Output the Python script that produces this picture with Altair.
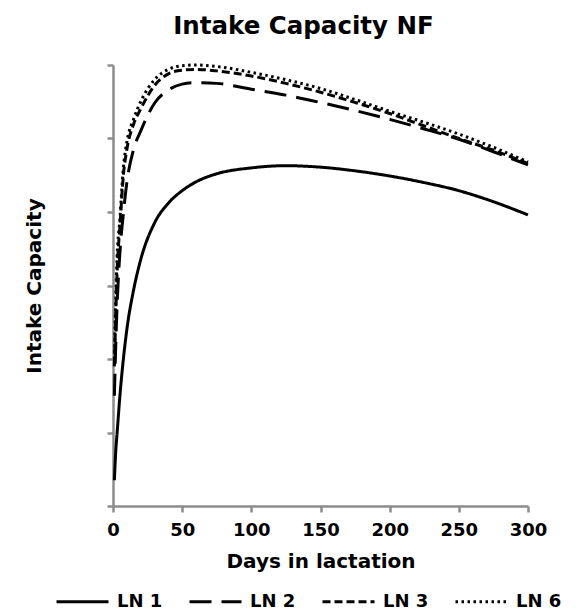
import altair as alt
import pandas as pd

days = [1, 2, 3, 5, 7.5, 10, 15, 20, 30, 40, 50, 60, 75, 100, 125, 150, 175, 200, 225, 250, 275, 300]

ln1 = [0.35, 0.75, 1.0, 1.5, 2.0, 2.4, 2.95, 3.35, 3.85, 4.12, 4.29, 4.41, 4.52, 4.60, 4.63, 4.61, 4.56, 4.49, 4.40, 4.29, 4.14, 3.96]
ln2 = [1.5, 2.2, 2.75, 3.45, 3.98, 4.4, 4.86, 5.1, 5.48, 5.66, 5.74, 5.76, 5.75, 5.67, 5.59, 5.49, 5.38, 5.26, 5.13, 4.99, 4.82, 4.64]
ln3 = [1.9, 2.6, 3.2, 3.8, 4.5, 4.85, 5.2, 5.4, 5.72, 5.88, 5.93, 5.94, 5.92, 5.85, 5.75, 5.63, 5.49, 5.34, 5.17, 5.0, 4.84, 4.66]
ln6 = [2.0, 2.8, 3.4, 3.9, 4.6, 4.95, 5.27, 5.5, 5.8, 5.94, 5.99, 6.0, 5.98, 5.9, 5.8, 5.68, 5.53, 5.37, 5.22, 5.06, 4.88, 4.68]

series_names = ["LN 1", "LN 2", "LN 3", "LN 6"]
series_values = [ln1, ln2, ln3, ln6]
dash_patterns = [[1, 0], [22, 10], [8, 4], [2.5, 3.5]]

x_ticks = [0, 50, 100, 150, 200, 250, 300]
y_ticks = [0, 1, 2, 3, 4, 5, 6]

rows = []
for name, vals in zip(series_names, series_values):
    for d, v in zip(days, vals):
        rows.append({"day": d, "value": v, "series": name})
df = pd.DataFrame(rows)

FONT = "DejaVu Sans"
GRAY = "#8c8c8c"

chart = alt.Chart(df).mark_line(
    color="black", strokeWidth=3, interpolate="monotone", clip=False
).encode(
    x=alt.X("day:Q",
            scale=alt.Scale(domain=[0, 300], nice=False, zero=False),
            axis=alt.Axis(title="Days in lactation", values=x_ticks, grid=False,
                          labelFlush=False,
                          domainColor=GRAY, domainWidth=2.5, tickColor=GRAY, tickWidth=2.5,
                          tickSize=6, labelPadding=9, labelFont=FONT, labelFontSize=18,
                          labelFontWeight="bold", labelColor="black",
                          titleFont=FONT, titleFontSize=20, titleFontWeight="bold",
                          titleColor="black", titlePadding=12)),
    y=alt.Y("value:Q",
            scale=alt.Scale(domain=[0, 6], nice=False, zero=False),
            axis=alt.Axis(title="Intake Capacity", values=y_ticks, grid=False, labels=False,
                          domainColor=GRAY, domainWidth=2.5, tickColor=GRAY, tickWidth=2.5,
                          tickSize=6, titleFont=FONT, titleFontSize=20, titleFontWeight="bold",
                          titleColor="black", titlePadding=61)),
    strokeDash=alt.StrokeDash("series:N",
                              scale=alt.Scale(domain=series_names, range=dash_patterns),
                              legend=alt.Legend(title=None, orient="none", direction="horizontal",
                                                legendX=-58, legendY=509,
                                                symbolType="stroke", symbolSize=2704,
                                                symbolStrokeWidth=3, symbolStrokeColor="black",
                                                labelFont=FONT, labelFontSize=18,
                                                labelFontWeight="bold", labelColor="black",
                                                labelOffset=7, columnPadding=20, padding=0)),
    detail="series:N",
).properties(
    width=415,
    height=441,
    title=alt.TitleParams("Intake Capacity NF", font=FONT, fontSize=24.5, fontWeight="bold",
                          color="black", anchor="middle", dx=-17, offset=20),
    autosize=alt.AutoSizeParams(type="none"),
    padding={"left": 105, "top": 57, "right": 40, "bottom": 110},
).configure_view(stroke=None)

chart.save("out.html", embed_options={"renderer": "svg", "actions": False})
